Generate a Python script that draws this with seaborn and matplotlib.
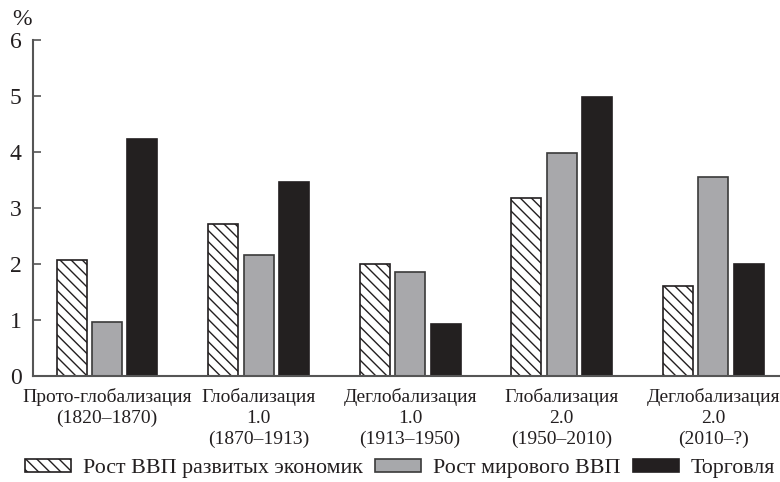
import matplotlib
matplotlib.use("Agg")
import matplotlib.pyplot as plt
import matplotlib.patches as mpatches
import pandas as pd
import seaborn as sns

# ── Data ───────────────────────────────────────────────────────────────────────
periods = [
    "Прото-глобализация\n(1820–1870)",
    "Глобализация\n1.0\n(1870–1913)",
    "Деглобализация\n1.0\n(1913–1950)",
    "Глобализация\n2.0\n(1950–2010)",
    "Деглобализация\n2.0\n(2010–?)",
]
series = ["Рост ВВП развитых экономик", "Рост мирового ВВП", "Торговля"]
gdp_developed = [2.07, 2.72, 2.0, 3.18, 1.6]
gdp_world = [0.97, 2.16, 1.85, 3.98, 3.55]
trade = [4.23, 3.47, 0.93, 4.98, 2.0]

df = pd.DataFrame({
    "period": periods * 3,
    "series": [series[0]] * 5 + [series[1]] * 5 + [series[2]] * 5,
    "value": gdp_developed + gdp_world + trade,
})

# ── Style ──────────────────────────────────────────────────────────────────────
sns.set_style("white")
serif = ["Liberation Serif", "DejaVu Serif"]
plt.rcParams["font.family"] = serif
plt.rcParams["hatch.linewidth"] = 1.0
text_col = "#231f20"
fills = ["white", "#a7a8ab", "#231f20"]
edges = ["#231f20", "#3a3a3a", "#231f20"]
hatches = ["\\\\\\", "", ""]

fig = plt.figure(figsize=(7.8, 4.82), dpi=100)
ax = fig.add_axes([0.042, 0.22, 0.958, 0.697])

sns.barplot(
    data=df, x="period", y="value", hue="series", order=periods,
    hue_order=series, palette=fills, width=0.7, gap=0.15,
    edgecolor="#231f20", linewidth=1.2, legend=False, ax=ax,
)
for cont, ec, h in zip(ax.containers, edges, hatches):
    for p in cont:
        p.set_edgecolor(ec)
        p.set_hatch(h)

ax.set_ylim(0, 6)
ax.set_xlim(-0.49, 4.44)
ax.set_yticks(range(7))
ax.set_xlabel("")
ax.set_ylabel("")
for s in ["top", "right"]:
    ax.spines[s].set_visible(False)
for s in ["left", "bottom"]:
    ax.spines[s].set_color("#555555")
    ax.spines[s].set_linewidth(1.5)

ax.tick_params(axis="y", direction="in", length=6, width=1.2, color="#555555",
               labelsize=17, pad=8, labelcolor=text_col, left=True)
ax.tick_params(axis="x", length=0, labelsize=14.0, pad=9, labelcolor=text_col)
for lbl in ax.get_xticklabels():
    lbl.set_linespacing(1.26)
    lbl.set_verticalalignment("top")

fig.text(0.028, 0.96, "%", fontsize=17, color=text_col, ha="center", va="center",
         family=serif)

handles = [
    mpatches.Patch(facecolor=f, edgecolor=e, hatch=h, linewidth=1.2)
    for f, e, h in zip(fills, edges, hatches)
]
fig.legend(handles, series, loc="center", bbox_to_anchor=(0.513, 0.028), ncol=3,
           frameon=False, prop={"family": serif, "size": 15.8},
           handlelength=2.1, handleheight=0.55,
           handletextpad=0.55, columnspacing=0.55, labelcolor=text_col,
           borderaxespad=0, borderpad=0)

fig.savefig("out.png", dpi=100)
plt.close(fig)
